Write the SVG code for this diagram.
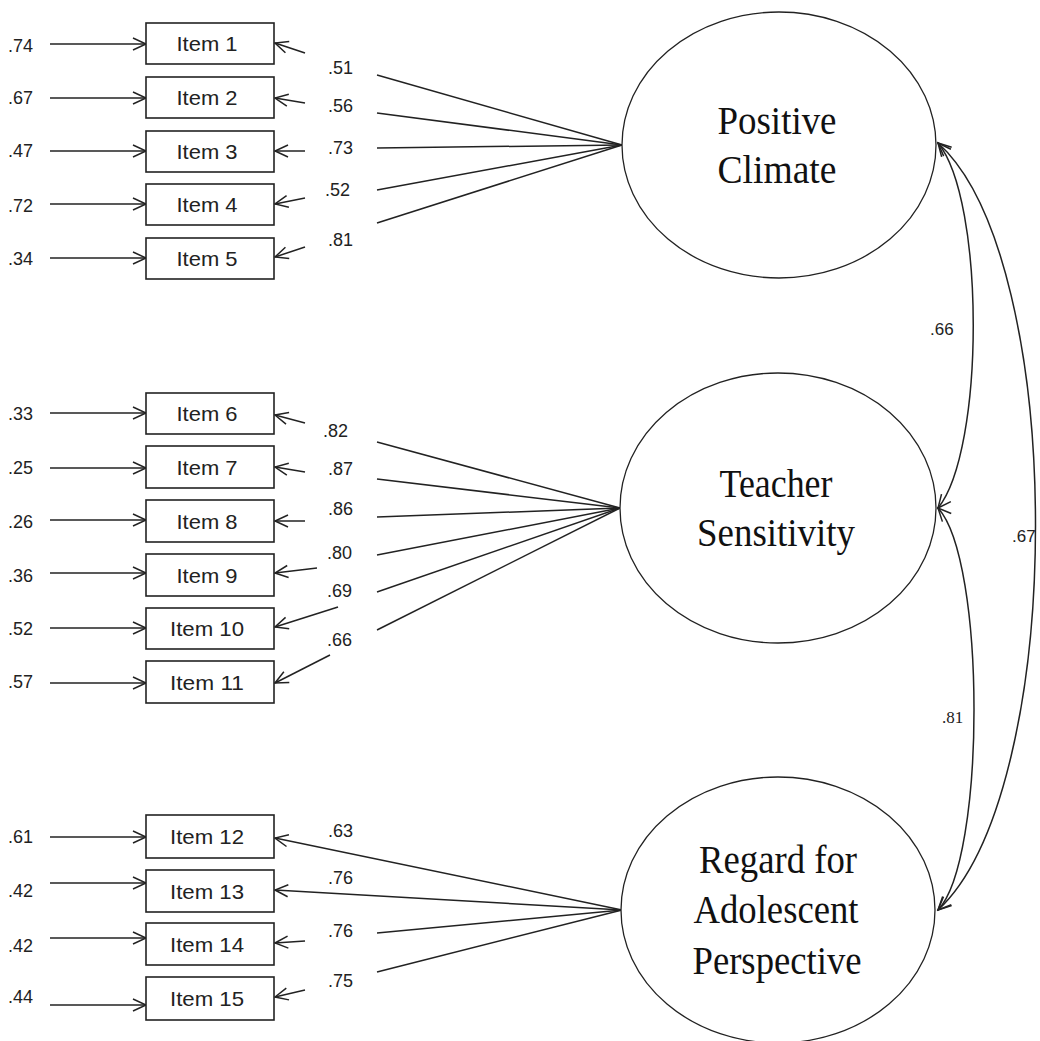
<svg xmlns="http://www.w3.org/2000/svg" width="1040" height="1041" viewBox="0 0 1040 1041">
<style>
.box{fill:#fff;stroke:#222;stroke-width:1.6}
.lat{fill:#fff;stroke:#222;stroke-width:1.3}
.it{font-family:"Liberation Sans",Arial,sans-serif;font-size:21px;fill:#222;text-anchor:middle}
.num{font-family:"Liberation Sans",Arial,sans-serif;font-size:18px;fill:#222}
.cor{font-family:"Liberation Sans",Arial,sans-serif;font-size:17px;fill:#222}
.lt{font-family:"Liberation Serif","Times New Roman",serif;font-size:40px;fill:#111;text-anchor:middle}
.c line,.c path{stroke:#222;stroke-width:1.5;fill:none}
.c .a{marker-end:url(#ah)}
.c .b{marker-start:url(#ah);marker-end:url(#ah)}
</style>
<defs>
<marker id="ah" markerUnits="userSpaceOnUse" viewBox="-15 -8 17 16" refX="0" refY="0" markerWidth="17" markerHeight="16" orient="auto-start-reverse">
<path d="M-13,-6 L0,0 L-13,6" fill="none" stroke="#222" stroke-width="1.5"/>
</marker>
</defs>
<rect width="1040" height="1041" fill="#fff"/>

<g id="connectors" class="c">
<line class="a" x1="50" y1="44" x2="146" y2="44"/>
<line class="a" x1="50" y1="98" x2="146" y2="98"/>
<line class="a" x1="50" y1="151" x2="146" y2="151"/>
<line class="a" x1="50" y1="204" x2="146" y2="204"/>
<line class="a" x1="50" y1="258" x2="146" y2="258"/>
<line class="a" x1="50" y1="413" x2="146" y2="413"/>
<line class="a" x1="50" y1="468" x2="146" y2="468"/>
<line class="a" x1="50" y1="520" x2="146" y2="520"/>
<line class="a" x1="50" y1="573" x2="146" y2="573"/>
<line class="a" x1="50" y1="628" x2="146" y2="628"/>
<line class="a" x1="50" y1="683" x2="146" y2="683"/>
<line class="a" x1="50" y1="837" x2="146" y2="837"/>
<line class="a" x1="50" y1="883" x2="146" y2="883"/>
<line class="a" x1="50" y1="938" x2="146" y2="938"/>
<line class="a" x1="50" y1="1005" x2="146" y2="1005"/>
<line x1="377" y1="75" x2="622" y2="145"/>
<line x1="377" y1="113" x2="622" y2="145"/>
<line x1="377" y1="148" x2="622" y2="145"/>
<line x1="377" y1="190" x2="622" y2="145"/>
<line x1="377" y1="223" x2="622" y2="145"/>
<line class="a" x1="305" y1="53" x2="275" y2="43"/>
<line class="a" x1="305" y1="103" x2="275" y2="98"/>
<line class="a" x1="305" y1="151" x2="275" y2="151"/>
<line class="a" x1="305" y1="198" x2="275" y2="204"/>
<line class="a" x1="305" y1="247" x2="275" y2="257"/>
<line x1="377" y1="442" x2="620" y2="508"/>
<line x1="377" y1="479" x2="620" y2="508"/>
<line x1="377" y1="517" x2="620" y2="508"/>
<line x1="377" y1="555" x2="620" y2="508"/>
<line x1="377" y1="592" x2="620" y2="508"/>
<line x1="377" y1="630" x2="620" y2="508"/>
<line class="a" x1="305" y1="423" x2="275" y2="415"/>
<line class="a" x1="305" y1="472" x2="275" y2="467"/>
<line class="a" x1="305" y1="521" x2="275" y2="521"/>
<line class="a" x1="317" y1="568" x2="275" y2="573"/>
<line class="a" x1="338" y1="607" x2="275" y2="627"/>
<line class="a" x1="330" y1="655" x2="275" y2="683"/>
<line class="a" x1="622" y1="910" x2="275" y2="838"/>
<line class="a" x1="622" y1="910" x2="275" y2="890"/>
<line x1="377" y1="933" x2="622" y2="910"/>
<line x1="377" y1="972" x2="622" y2="910"/>
<line class="a" x1="305" y1="941" x2="275" y2="943"/>
<line class="a" x1="305" y1="990" x2="275" y2="997"/>
<path class="b" d="M938,143 C985,200 985,450 938,508"/>
<path class="b" d="M938,508 C986,560 986,860 938,910"/>
<path class="b" d="M938,143 C1068,260 1068,790 938,910"/>
</g>

<g id="labels">
<text class="num" x="8" y="52">.74</text>
<text class="num" x="8" y="104">.67</text>
<text class="num" x="8" y="157">.47</text>
<text class="num" x="8" y="212">.72</text>
<text class="num" x="8" y="265">.34</text>
<text class="num" x="8" y="420">.33</text>
<text class="num" x="8" y="474">.25</text>
<text class="num" x="8" y="528">.26</text>
<text class="num" x="8" y="582">.36</text>
<text class="num" x="8" y="635">.52</text>
<text class="num" x="8" y="688">.57</text>
<text class="num" x="8" y="843">.61</text>
<text class="num" x="8" y="897">.42</text>
<text class="num" x="8" y="952">.42</text>
<text class="num" x="8" y="1003">.44</text>
<text class="num" x="328" y="74">.51</text>
<text class="num" x="328" y="112">.56</text>
<text class="num" x="328" y="154">.73</text>
<text class="num" x="325" y="196">.52</text>
<text class="num" x="328" y="246">.81</text>
<text class="num" x="323" y="437">.82</text>
<text class="num" x="328" y="475">.87</text>
<text class="num" x="328" y="515">.86</text>
<text class="num" x="327" y="559">.80</text>
<text class="num" x="327" y="597">.69</text>
<text class="num" x="327" y="646">.66</text>
<text class="num" x="328" y="837">.63</text>
<text class="num" x="328" y="884">.76</text>
<text class="num" x="328" y="937">.76</text>
<text class="num" x="328" y="987">.75</text>
<text class="cor" x="930" y="335">.66</text>
<text class="cor" x="1012" y="542">.67</text>
<text class="cor" x="942" y="723" style="font-family:'Liberation Serif',serif">.81</text>
</g>

<g id="item1"><rect class="box" x="146" y="23" width="128" height="41"/><text class="it" x="207" y="51" textLength="61" lengthAdjust="spacingAndGlyphs">Item 1</text></g>
<g id="item2"><rect class="box" x="146" y="77" width="128" height="41"/><text class="it" x="207" y="105" textLength="61" lengthAdjust="spacingAndGlyphs">Item 2</text></g>
<g id="item3"><rect class="box" x="146" y="131" width="128" height="41"/><text class="it" x="207" y="159" textLength="61" lengthAdjust="spacingAndGlyphs">Item 3</text></g>
<g id="item4"><rect class="box" x="146" y="184" width="128" height="41"/><text class="it" x="207" y="212" textLength="61" lengthAdjust="spacingAndGlyphs">Item 4</text></g>
<g id="item5"><rect class="box" x="146" y="238" width="128" height="41"/><text class="it" x="207" y="266" textLength="61" lengthAdjust="spacingAndGlyphs">Item 5</text></g>
<g id="item6"><rect class="box" x="146" y="393" width="128" height="41"/><text class="it" x="207" y="421" textLength="61" lengthAdjust="spacingAndGlyphs">Item 6</text></g>
<g id="item7"><rect class="box" x="146" y="446" width="128" height="42"/><text class="it" x="207" y="475" textLength="61" lengthAdjust="spacingAndGlyphs">Item 7</text></g>
<g id="item8"><rect class="box" x="146" y="500" width="128" height="42"/><text class="it" x="207" y="529" textLength="61" lengthAdjust="spacingAndGlyphs">Item 8</text></g>
<g id="item9"><rect class="box" x="146" y="554" width="128" height="42"/><text class="it" x="207" y="583" textLength="61" lengthAdjust="spacingAndGlyphs">Item 9</text></g>
<g id="item10"><rect class="box" x="146" y="608" width="128" height="41"/><text class="it" x="207" y="636" textLength="74" lengthAdjust="spacingAndGlyphs">Item 10</text></g>
<g id="item11"><rect class="box" x="146" y="661" width="128" height="42"/><text class="it" x="207" y="690" textLength="74" lengthAdjust="spacingAndGlyphs">Item 11</text></g>
<g id="item12"><rect class="box" x="146" y="815" width="128" height="43"/><text class="it" x="207" y="844" textLength="74" lengthAdjust="spacingAndGlyphs">Item 12</text></g>
<g id="item13"><rect class="box" x="146" y="870" width="128" height="42"/><text class="it" x="207" y="899" textLength="74" lengthAdjust="spacingAndGlyphs">Item 13</text></g>
<g id="item14"><rect class="box" x="146" y="923" width="128" height="42"/><text class="it" x="207" y="952" textLength="74" lengthAdjust="spacingAndGlyphs">Item 14</text></g>
<g id="item15"><rect class="box" x="146" y="977" width="128" height="43"/><text class="it" x="207" y="1006" textLength="74" lengthAdjust="spacingAndGlyphs">Item 15</text></g>

<g id="positive-climate"><ellipse class="lat" cx="779" cy="145" rx="157" ry="133"/>
<text class="lt" x="777" y="134" textLength="119" lengthAdjust="spacingAndGlyphs">Positive</text>
<text class="lt" x="777" y="183" textLength="119" lengthAdjust="spacingAndGlyphs">Climate</text></g>
<g id="teacher-sensitivity"><ellipse class="lat" cx="778" cy="508" rx="158" ry="135"/>
<text class="lt" x="776" y="497" textLength="113" lengthAdjust="spacingAndGlyphs">Teacher</text>
<text class="lt" x="776" y="546" textLength="158" lengthAdjust="spacingAndGlyphs">Sensitivity</text></g>
<g id="regard-adolescent"><ellipse class="lat" cx="778" cy="910" rx="157" ry="133"/>
<text class="lt" x="778" y="873" textLength="158" lengthAdjust="spacingAndGlyphs">Regard for</text>
<text class="lt" x="776" y="923" textLength="165" lengthAdjust="spacingAndGlyphs">Adolescent</text>
<text class="lt" x="777" y="974" textLength="169" lengthAdjust="spacingAndGlyphs">Perspective</text></g>
</svg>
